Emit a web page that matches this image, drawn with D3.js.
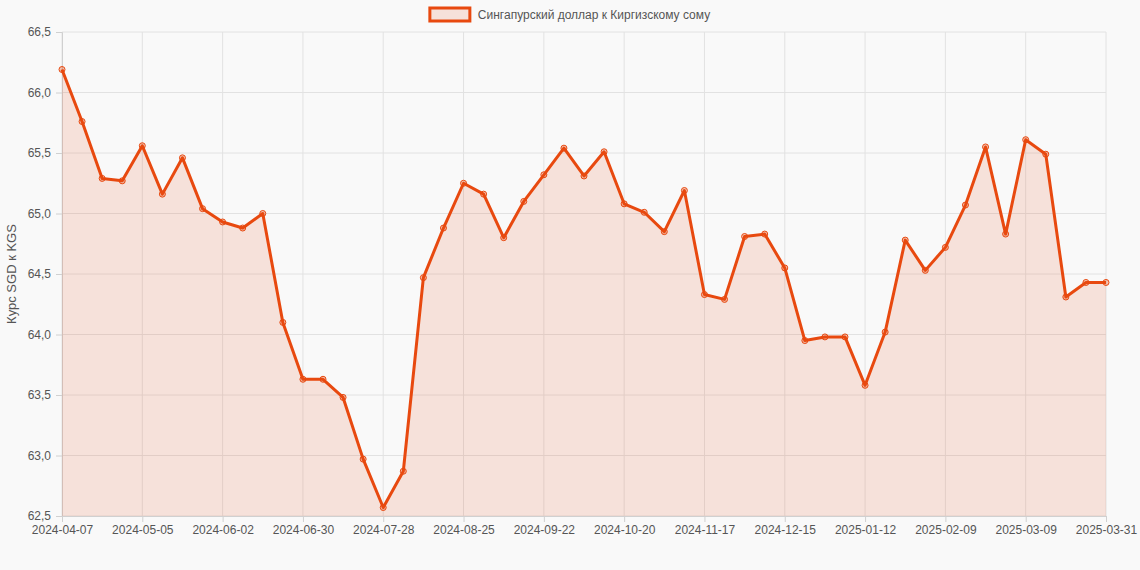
<!DOCTYPE html>
<html>
<head>
<script src="https://d3js.org/d3.v7.min.js"></script>
<style>
  body { margin: 0; background: #f9f9f9; font-family: 'Liberation Sans', Arial, sans-serif; }
</style>
</head>
<body>
<div id="chart"></div>
<script>
var seriesName = "Сингапурский доллар к Киргизскому сому";
var yLabel = "Курс SGD к KGS";

var dates = [];
var start = new Date(Date.UTC(2024, 3, 7));
for (var i = 0; i <= 51; i++) {
  dates.push(new Date(start.getTime() + i * 7 * 864e5).toISOString().slice(0, 10));
}
dates.push("2025-03-31");

var values = [66.19, 65.76, 65.29, 65.27, 65.56, 65.16, 65.46, 65.04, 64.93, 64.88,
  65.00, 64.10, 63.63, 63.63, 63.48, 62.97, 62.57, 62.87, 64.47, 64.88,
  65.25, 65.16, 64.80, 65.10, 65.32, 65.54, 65.31, 65.51, 65.08, 65.01,
  64.85, 65.19, 64.33, 64.29, 64.81, 64.83, 64.55, 63.95, 63.98, 63.98,
  63.58, 64.02, 64.78, 64.53, 64.72, 65.07, 65.55, 64.83, 65.61, 65.49,
  64.31, 64.43, 64.43];

var yTicks = [62.5, 63, 63.5, 64, 64.5, 65, 65.5, 66, 66.5];
var xTickIdx = [0, 4, 8, 12, 16, 20, 24, 28, 32, 36, 40, 44, 48, 52];

var W = 1140, H = 570;
var m = {top: 32, right: 34, bottom: 54, left: 62};
var color = "#e8490f";

var svg = d3.select("#chart").append("svg").attr("width", W).attr("height", H);

var x = d3.scalePoint().domain(d3.range(values.length)).range([m.left, W - m.right]);
var y = d3.scaleLinear().domain([62.5, 66.5]).range([H - m.bottom, m.top]);
var fmt = function(v){ return d3.format(".1f")(v).replace(".", ","); };

// grid
svg.append("g").selectAll("line").data(yTicks).enter().append("line")
  .attr("x1", m.left).attr("x2", W - m.right)
  .attr("y1", function(d){ return y(d); }).attr("y2", function(d){ return y(d); })
  .attr("stroke", "#e2e2e2");
svg.append("g").selectAll("line").data(xTickIdx).enter().append("line")
  .attr("y1", m.top).attr("y2", H - m.bottom)
  .attr("x1", function(d){ return x(d); }).attr("x2", function(d){ return x(d); })
  .attr("stroke", "#e2e2e2");

// axes
var yAxis = svg.append("g").attr("transform", "translate(" + m.left + ",0)")
  .call(d3.axisLeft(y).tickValues(yTicks).tickFormat(fmt).tickSize(6));
var xAxis = svg.append("g").attr("transform", "translate(0," + (H - m.bottom) + ")")
  .call(d3.axisBottom(x).tickValues(xTickIdx).tickFormat(function(i){ return dates[i]; }).tickSize(6));
[xAxis, yAxis].forEach(function(a){
  a.selectAll("path,line").attr("stroke", "#d0d0d0");
  a.selectAll("text").attr("fill", "#555").style("font-size", "12px");
});
yAxis.selectAll("text").attr("dx", "-2");

svg.append("text").attr("transform", "translate(16," + ((m.top + H - m.bottom) / 2) + ") rotate(-90)")
  .attr("text-anchor", "middle").attr("fill", "#555").style("font-size", "13px").text(yLabel);

// area + line
svg.append("path").datum(values)
  .attr("d", d3.area().x(function(d, i){ return x(i); }).y0(y(62.5)).y1(function(d){ return y(d); }))
  .attr("fill", "rgba(232,73,15,0.13)");
svg.append("path").datum(values)
  .attr("d", d3.line().x(function(d, i){ return x(i); }).y(function(d){ return y(d); }))
  .attr("fill", "none").attr("stroke", color).attr("stroke-width", 3).attr("stroke-linejoin", "round");
svg.append("g").selectAll("circle").data(values).enter().append("circle")
  .attr("cx", function(d, i){ return x(i); }).attr("cy", function(d){ return y(d); })
  .attr("r", 3).attr("fill", "rgba(232,73,15,0.3)").attr("stroke", color).attr("stroke-width", 1);

// legend
var lg = svg.append("g");
var lt = lg.append("text").attr("y", 19).style("font-size", "12px").attr("fill", "#555").text(seriesName);
var tw = lt.node().getComputedTextLength();
var lx = (W - (tw + 48)) / 2;
lg.append("rect").attr("x", lx).attr("y", 8).attr("width", 40).attr("height", 13)
  .attr("fill", "rgba(232,73,15,0.13)").attr("stroke", color).attr("stroke-width", 3);
lt.attr("x", lx + 48);
</script>
</body>
</html>
